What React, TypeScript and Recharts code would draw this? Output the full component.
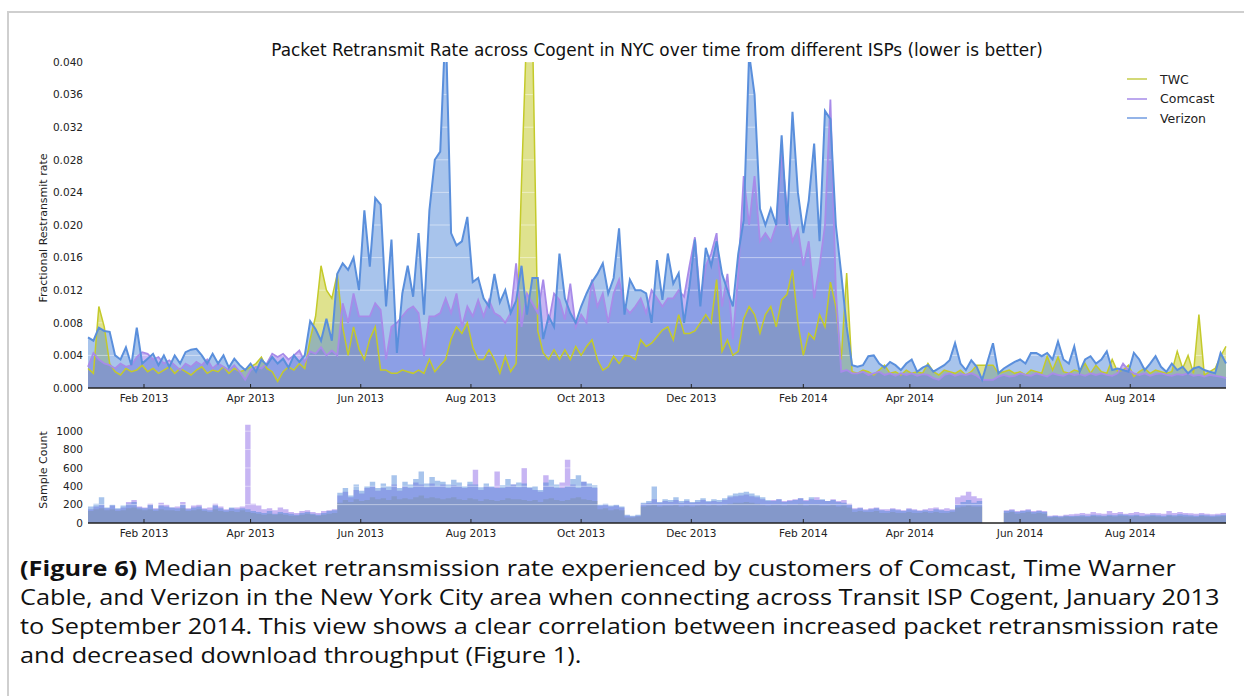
import React from 'react';
import {
  Area,
  ComposedChart,
  Line,
  ReferenceLine,
  XAxis,
  YAxis,
} from 'recharts';

// days since 1 Jan 2013, one sample every third day
const days = [
  0, 3, 6, 9, 12, 15, 18, 21, 24, 27, 30, 33, 36, 39, 42, 45, 48, 51, 54, 57,
  60, 63, 66, 69, 72, 75, 78, 81, 84, 87, 90, 93, 96, 99, 102, 105, 108, 111, 114, 117,
  120, 123, 126, 129, 132, 135, 138, 141, 144, 147, 150, 153, 156, 159, 162, 165, 168, 171, 174, 177,
  180, 183, 186, 189, 192, 195, 198, 201, 204, 207, 210, 213, 216, 219, 222, 225, 228, 231, 234, 237,
  240, 243, 246, 249, 252, 255, 258, 261, 264, 267, 270, 273, 276, 279, 282, 285, 288, 291, 294, 297,
  300, 303, 306, 309, 312, 315, 318, 321, 324, 327, 330, 333, 336, 339, 342, 345, 348, 351, 354, 357,
  360, 363, 366, 369, 372, 375, 378, 381, 384, 387, 390, 393, 396, 399, 402, 405, 408, 411, 414, 417,
  420, 423, 426, 429, 432, 435, 438, 441, 444, 447, 450, 453, 456, 459, 462, 465, 468, 471, 474, 477,
  480, 483, 486, 489, 492, 495, 498, 501, 504, 507, 510, 513, 516, 519, 522, 525, 528, 531, 534, 537,
  540, 543, 546, 549, 552, 555, 558, 561, 564, 567, 570, 573, 576, 579, 582, 585, 588, 591, 594, 597,
  600, 603, 606, 609, 612, 615, 618, 621, 624, 627, 630,
];

const twcRate = [
  0.0024, 0.0018, 0.0100, 0.0075, 0.0030, 0.0020, 0.0016, 0.0024, 0.0020, 0.0022,
  0.0028, 0.0020, 0.0024, 0.0018, 0.0022, 0.0026, 0.0018, 0.0024, 0.0020, 0.0016,
  0.0022, 0.0026, 0.0018, 0.0022, 0.0020, 0.0026, 0.0018, 0.0024, 0.0020, 0.0022,
  0.0026, 0.0030, 0.0038, 0.0024, 0.0020, 0.0008, 0.0020, 0.0026, 0.0022, 0.0030,
  0.0024, 0.0060, 0.0088, 0.0150, 0.0120, 0.0110, 0.0140, 0.0075, 0.0040, 0.0075,
  0.0048, 0.0035, 0.0060, 0.0075, 0.0022, 0.0022, 0.0018, 0.0018, 0.0022, 0.0020,
  0.0018, 0.0022, 0.0018, 0.0035, 0.0020, 0.0028, 0.0035, 0.0060, 0.0075, 0.0067,
  0.0080, 0.0050, 0.0035, 0.0035, 0.0047, 0.0035, 0.0018, 0.0039, 0.0020, 0.0030,
  0.0253, 0.0450, 0.0450, 0.0070, 0.0043, 0.0035, 0.0047, 0.0035, 0.0047, 0.0035,
  0.0051, 0.0040, 0.0051, 0.0059, 0.0035, 0.0022, 0.0026, 0.0039, 0.0030, 0.0040,
  0.0039, 0.0035, 0.0059, 0.0051, 0.0055, 0.0063, 0.0071, 0.0075, 0.0059, 0.0090,
  0.0067, 0.0067, 0.0070, 0.0080, 0.0090, 0.0080, 0.0133, 0.0045, 0.0059, 0.0040,
  0.0045, 0.0085, 0.0100, 0.0090, 0.0067, 0.0090, 0.0100, 0.0075, 0.0108, 0.0115,
  0.0145, 0.0080, 0.0040, 0.0067, 0.0060, 0.0090, 0.0075, 0.0130, 0.0100, 0.0035,
  0.0141, 0.0020, 0.0018, 0.0022, 0.0020, 0.0016, 0.0022, 0.0028, 0.0018, 0.0020,
  0.0016, 0.0022, 0.0018, 0.0020, 0.0018, 0.0030, 0.0020, 0.0016, 0.0022, 0.0020,
  0.0018, 0.0022, 0.0016, 0.0020, 0.0028, 0.0028, null, 0.0028, 0.0018, 0.0020,
  0.0022, 0.0018, 0.0020, 0.0016, 0.0022, 0.0020, 0.0018, 0.0039, 0.0022, 0.0038,
  0.0020, 0.0018, 0.0022, 0.0020, 0.0030, 0.0018, 0.0028, 0.0020, 0.0018, 0.0035,
  0.0020, 0.0022, 0.0028, 0.0014, 0.0020, 0.0024, 0.0018, 0.0022, 0.0020, 0.0018,
  0.0020, 0.0045, 0.0024, 0.0040, 0.0018, 0.0090, 0.0016, 0.0020, 0.0024, 0.0039,
  0.0051,
];

const comcastRate = [
  0.0026, 0.0043, 0.0035, 0.0030, 0.0028, 0.0024, 0.0030, 0.0026, 0.0028, 0.0038,
  0.0044, 0.0042, 0.0035, 0.0038, 0.0030, 0.0034, 0.0028, 0.0022, 0.0030, 0.0026,
  0.0032, 0.0028, 0.0035, 0.0024, 0.0030, 0.0026, 0.0022, 0.0028, 0.0020, 0.0010,
  0.0022, 0.0026, 0.0024, 0.0030, 0.0042, 0.0038, 0.0042, 0.0035, 0.0040, 0.0046,
  0.0032, 0.0045, 0.0042, 0.0050, 0.0040, 0.0046, 0.0040, 0.0104, 0.0080, 0.0116,
  0.0088, 0.0088, 0.0088, 0.0104, 0.0096, 0.0035, 0.0075, 0.0080, 0.0088, 0.0096,
  0.0100, 0.0092, 0.0039, 0.0088, 0.0088, 0.0092, 0.0110, 0.0092, 0.0116, 0.0075,
  0.0100, 0.0088, 0.0108, 0.0088, 0.0108, 0.0092, 0.0088, 0.0080, 0.0092, 0.0153,
  0.0075, 0.0116, 0.0104, 0.0092, 0.0133, 0.0080, 0.0116, 0.0108, 0.0084, 0.0128,
  0.0075, 0.0090, 0.0080, 0.0133, 0.0100, 0.0116, 0.0080, 0.0116, 0.0133, 0.0100,
  0.0092, 0.0100, 0.0110, 0.0092, 0.0120, 0.0110, 0.0100, 0.0110, 0.0110, 0.0120,
  0.0112, 0.0150, 0.0185, 0.0108, 0.0150, 0.0165, 0.0190, 0.0100, 0.0140, 0.0060,
  0.0140, 0.0260, 0.0200, 0.0260, 0.0180, 0.0190, 0.0180, 0.0200, 0.0288, 0.0220,
  0.0180, 0.0195, 0.0150, 0.0180, 0.0110, 0.0150, 0.0200, 0.0354, 0.0120, 0.0020,
  0.0022, 0.0018, 0.0018, 0.0020, 0.0016, 0.0018, 0.0020, 0.0016, 0.0018, 0.0015,
  0.0018, 0.0016, 0.0018, 0.0015, 0.0017, 0.0016, 0.0012, 0.0010, 0.0016, 0.0018,
  0.0015, 0.0017, 0.0016, 0.0018, 0.0015, 0.0010, null, 0.0010, 0.0014, 0.0016,
  0.0014, 0.0015, 0.0018, 0.0016, 0.0015, 0.0018, 0.0016, 0.0014, 0.0018, 0.0016,
  0.0015, 0.0018, 0.0016, 0.0017, 0.0015, 0.0018, 0.0016, 0.0018, 0.0016, 0.0015,
  0.0018, 0.0030, 0.0022, 0.0018, 0.0016, 0.0018, 0.0015, 0.0017, 0.0018, 0.0016,
  0.0015, 0.0017, 0.0016, 0.0018, 0.0015, 0.0016, 0.0014, 0.0016, 0.0015, 0.0014,
  0.0012,
];

const verizonRate = [
  0.0062, 0.0058, 0.0074, 0.0070, 0.0069, 0.0040, 0.0035, 0.0050, 0.0028, 0.0074,
  0.0030, 0.0036, 0.0042, 0.0028, 0.0040, 0.0026, 0.0040, 0.0030, 0.0044, 0.0047,
  0.0048, 0.0040, 0.0030, 0.0042, 0.0030, 0.0040, 0.0025, 0.0036, 0.0028, 0.0022,
  0.0030, 0.0020, 0.0035, 0.0028, 0.0038, 0.0030, 0.0036, 0.0025, 0.0040, 0.0032,
  0.0040, 0.0082, 0.0072, 0.0058, 0.0085, 0.0058, 0.0140, 0.0153, 0.0145, 0.0160,
  0.0120, 0.0218, 0.0149, 0.0233, 0.0225, 0.0100, 0.0182, 0.0043, 0.0116, 0.0150,
  0.0112, 0.0190, 0.0090, 0.0218, 0.0280, 0.0290, 0.0450, 0.0190, 0.0175, 0.0180,
  0.0210, 0.0130, 0.0135, 0.0110, 0.0100, 0.0140, 0.0105, 0.0120, 0.0092, 0.0107,
  0.0150, 0.0090, 0.0135, 0.0135, 0.0060, 0.0088, 0.0075, 0.0165, 0.0110, 0.0092,
  0.0080, 0.0100, 0.0116, 0.0130, 0.0140, 0.0153, 0.0116, 0.0135, 0.0196, 0.0090,
  0.0133, 0.0120, 0.0120, 0.0116, 0.0080, 0.0157, 0.0108, 0.0165, 0.0128, 0.0141,
  0.0080, 0.0125, 0.0182, 0.0100, 0.0172, 0.0150, 0.0180, 0.0140, 0.0120, 0.0100,
  0.0165, 0.0206, 0.0410, 0.0360, 0.0220, 0.0200, 0.0220, 0.0200, 0.0310, 0.0200,
  0.0339, 0.0240, 0.0190, 0.0230, 0.0300, 0.0180, 0.0340, 0.0330, 0.0200, 0.0140,
  0.0075, 0.0028, 0.0026, 0.0028, 0.0039, 0.0040, 0.0030, 0.0025, 0.0032, 0.0028,
  0.0022, 0.0030, 0.0035, 0.0020, 0.0025, 0.0028, 0.0020, 0.0024, 0.0028, 0.0034,
  0.0055, 0.0030, 0.0022, 0.0034, 0.0026, 0.0010, null, 0.0055, 0.0018, 0.0024,
  0.0028, 0.0032, 0.0035, 0.0030, 0.0043, 0.0043, 0.0039, 0.0043, 0.0035, 0.0057,
  0.0035, 0.0030, 0.0051, 0.0020, 0.0035, 0.0039, 0.0030, 0.0035, 0.0045, 0.0022,
  0.0024, 0.0022, 0.0020, 0.0043, 0.0035, 0.0022, 0.0030, 0.0039, 0.0026, 0.0020,
  0.0030, 0.0022, 0.0026, 0.0018, 0.0024, 0.0026, 0.0022, 0.0020, 0.0018, 0.0043,
  0.0030,
];

const twcSamples = [
  130, 150, 160, 140, 150, 130, 140, 160, 170, 150, 140, 150, 130, 150, 140, 140, 130, 160, 130, 140,
  150, 130, 120, 150, 130, 120, 130, 120, 140,
  120, 110, 100, 90, 100, 90, 100, 90, 80, 80, 90, 100, 90, 80, 90, 100, 110,
  220, 250, 230, 260, 240, 250, 280, 260, 270, 250, 290, 260, 270, 260, 280, 300, 270, 280, 270, 260,
  270, 280, 260, 250, 270, 260, 240, 260, 250, 240, 250, 270, 260, 260, 250, 240, 250, 230, 260, 270,
  250, 240, 250, 270, 280, 260, 250, 240,
  150, 160, 140, 150, 140, 60, 60, 70,
  180, 190, 200, 180, 190, 190, 200, 180, 190, 180, 190, 200, 190, 200, 190, 200, 210, 220, 220, 230,
  220, 210, 200,
  190, 200, 200, 190, 200, 200, 210, 190, 200, 200, 190, 190, 200, 180, 190, 170,
  120, 130, 120, 120, 130, 110, 110, 120, 110, 110, 120, 110, 110, 120, 110, 120, 110, 110, 120,
  170, 180, 190, 180, 180, 170,
  null, null, null,
  110, 120, 100, 110, 120, 100, 110, 100,
  60, 65, 60, 70, 65, 70, 70, 65, 75, 70, 70, 75, 70, 80, 75, 70, 75, 70, 70, 75,
  70, 65, 80, 70, 75, 70, 70, 65, 75, 70, 65, 70, 75, 65,
];

const comcastSamples = [
  150, 180, 200, 160, 190, 150, 170, 230, 250, 180, 170, 210, 160, 220, 200, 170, 180, 230, 160, 190,
  200, 160, 170, 210, 180, 150, 160, 170, 180,
  1070, 210, 190, 150, 160, 140, 170, 150, 120, 110, 130, 140, 120, 110, 130, 140, 150,
  300, 340, 280, 360, 320, 380, 400, 350, 380, 360, 420, 350, 400, 380, 440, 420, 390, 430, 400, 420,
  380, 410, 400, 380, 420, 580, 360, 400, 390, 560, 380, 400, 420, 390, 600, 380, 360, 340, 520, 400,
  380, 440, 690, 420, 380, 450, 400, 380,
  190, 200, 180, 190, 170, 80, 70, 80,
  210, 220, 260, 220, 240, 230, 250, 220, 240, 220, 230, 250, 230, 240, 230, 250, 280, 290, 300, 310,
  290, 280, 260,
  240, 250, 260, 240, 250, 260, 270, 250, 260, 280, 250, 240, 260, 240, 250, 210,
  160, 170, 150, 160, 170, 150, 150, 160, 150, 140, 160, 150, 140, 150, 160, 170, 150, 160, 150,
  280, 300, 340, 290, 270, 260,
  null, null, null,
  140, 150, 130, 140, 150, 130, 140, 130,
  80, 85, 80, 90, 95, 100, 110, 100, 120, 105, 100, 130, 110, 120, 100, 110, 120, 110, 100, 110,
  105, 100, 130, 110, 120, 110, 105, 100, 110, 100, 95, 100, 110, 90,
];

const verizonSamples = [
  180, 210, 280, 170, 200, 160, 190, 210, 230, 170, 160, 200, 150, 190, 180, 170, 160, 200, 150, 170,
  180, 150, 140, 190, 160, 140, 170, 150, 160,
  150, 130, 120, 110, 130, 100, 120, 110, 100, 90, 110, 120, 100, 90, 110, 130, 140,
  330, 380, 300, 420, 350, 400, 450, 380, 430, 400, 520, 380, 450, 420, 480, 560, 430, 500, 460, 450,
  420, 470, 440, 400, 450, 420, 390, 430, 400, 380, 410, 480, 420, 440, 430, 390, 400, 360, 440, 470,
  420, 380, 400, 480, 520, 450, 430, 410,
  200, 210, 190, 200, 180, 90, 80, 90,
  220, 240, 400, 230, 260, 250, 280, 240, 260, 230, 250, 270, 240, 260, 250, 270, 300, 320, 330, 340,
  320, 300, 280,
  250, 240, 260, 230, 240, 250, 270, 240, 280, 250, 260, 240, 250, 230, 220, 200,
  150, 160, 140, 150, 160, 140, 130, 150, 140, 130, 150, 140, 130, 140, 130, 150, 140, 130, 140,
  200, 230, 250, 220, 240, 230,
  null, null, null,
  130, 140, 120, 130, 140, 120, 130, 120,
  70, 75, 70, 80, 75, 80, 85, 80, 90, 85, 80, 90, 85, 95, 90, 85, 90, 80, 85, 90,
  85, 80, 90, 85, 95, 90, 85, 80, 90, 85, 80, 85, 90, 80,
];

const monthDays = [31, 90, 151, 212, 273, 334, 396, 455, 516, 577];
const monthLabels = [
  'Feb 2013', 'Apr 2013', 'Jun 2013', 'Aug 2013', 'Oct 2013',
  'Dec 2013', 'Feb 2014', 'Apr 2014', 'Jun 2014', 'Aug 2014',
];
const rateTicks = [0, 0.004, 0.008, 0.012, 0.016, 0.02, 0.024, 0.028, 0.032, 0.036, 0.04];
const countTicks = [0, 200, 400, 600, 800, 1000];

const isps = [
  { key: 'twc', name: 'TWC', fill: '#bfc51d', stroke: '#c4ca2a', legend: '#d3d977', width: 1.5 },
  { key: 'comcast', name: 'Comcast', fill: '#8f6be7', stroke: '#a88be9', legend: '#bca8ee', width: 1.8 },
  { key: 'verizon', name: 'Verizon', fill: '#5189d9', stroke: '#5a8fdc', legend: '#94b4e8', width: 2 },
];

const rateData = days.map((d, i) => ({
  day: d,
  twc: twcRate[i],
  comcast: comcastRate[i],
  verizon: verizonRate[i],
}));

const countData = days.map((d, i) => ({
  day: d,
  twc: twcSamples[i],
  comcast: comcastSamples[i],
  verizon: verizonSamples[i],
}));

const FONT = 'DejaVu Sans';

const MonthTick = (props: any) => {
  const { x, y, payload } = props;
  const label = monthLabels[monthDays.indexOf(payload.value)];
  return (
    <g>
      <line x1={x} x2={x} y1={y} y2={y - 4} stroke='#222' strokeWidth={1} />
      <text x={x} y={y + 13.5} textAnchor='middle' fontSize={10.5} fill='#222' fontFamily={FONT}>
        {label}
      </text>
    </g>
  );
};

const xAxisProps = {
  dataKey: 'day',
  type: 'number' as const,
  domain: [0, 630],
  ticks: monthDays,
  tick: MonthTick,
  tickSize: 0,
  tickMargin: 0,
  tickLine: false,
  axisLine: { stroke: '#222', strokeWidth: 1.5 },
  height: 20,
  interval: 0 as const,
};

const yTickStyle = { fontSize: 10.5, fill: '#222', fontFamily: FONT };

const captionLines = [
  'Median packet retransmission rate experienced by customers of Comcast, Time Warner',
  'Cable, and Verizon in the New York City area when connecting across Transit ISP Cogent, January 2013',
  'to September 2014. This view shows a clear correlation between increased packet retransmission rate',
  'and decreased download throughput (Figure 1).',
];

export default function App() {
  return (
    <div
      style={{
        position: 'absolute',
        left: 0,
        top: 0,
        width: 1244,
        height: 696,
        overflow: 'hidden',
        background: '#fff',
        fontFamily: FONT,
      }}
    >
      <div
        style={{
          position: 'absolute',
          left: 7,
          top: 11,
          width: 1300,
          height: 1000,
          border: '2px solid #cfcfcf',
        }}
      />

      <div style={{ position: 'absolute', left: 0, top: 0 }}>
        <ComposedChart
          width={1244}
          height={420}
          data={rateData}
          margin={{ top: 62, right: 18, bottom: 12, left: 0 }}
        >
          <XAxis {...xAxisProps} />
          <YAxis
            type='number'
            domain={[0, 0.04]}
            allowDataOverflow
            ticks={rateTicks}
            tickFormatter={(v) => v.toFixed(3)}
            width={88}
            tickSize={0}
            tickMargin={5}
            tickLine={false}
            axisLine={false}
            tick={yTickStyle}
          />
          {isps.map((s) => (
            <Area
              key={s.key}
              type='linear'
              dataKey={s.key}
              stroke='none'
              fill={s.fill}
              fillOpacity={0.5}
              connectNulls
              isAnimationActive={false}
            />
          ))}
          {rateTicks.slice(1).map((v) => (
            <ReferenceLine key={v} y={v} stroke='#fff' strokeOpacity={0.45} strokeWidth={1} />
          ))}
          {isps.map((s) => (
            <Line
              key={s.key}
              type='linear'
              dataKey={s.key}
              stroke={s.stroke}
              strokeWidth={s.width}
              dot={false}
              connectNulls
              isAnimationActive={false}
            />
          ))}
        </ComposedChart>
      </div>

      <div style={{ position: 'absolute', left: 0, top: 400 }}>
        <ComposedChart
          width={1244}
          height={150}
          data={countData}
          margin={{ top: 22, right: 18, bottom: 7, left: 0 }}
        >
          <XAxis {...xAxisProps} />
          <YAxis
            type='number'
            domain={[0, 1100]}
            ticks={countTicks}
            width={88}
            tickSize={0}
            tickMargin={5}
            tickLine={false}
            axisLine={false}
            tick={yTickStyle}
          />
          {isps.map((s) => (
            <Area
              key={s.key}
              type='stepAfter'
              dataKey={s.key}
              stroke='none'
              fill={s.fill}
              fillOpacity={0.5}
              isAnimationActive={false}
            />
          ))}
          {countTicks.slice(1).map((v) => (
            <ReferenceLine key={v} y={v} stroke='#fff' strokeOpacity={0.45} strokeWidth={1} />
          ))}
        </ComposedChart>
      </div>

      <div
        style={{
          position: 'absolute',
          left: 657,
          top: 50,
          transform: 'translate(-50%, -50%)',
          whiteSpace: 'nowrap',
          fontSize: 16.9,
          color: '#111',
        }}
      >
        Packet Retransmit Rate across Cogent in NYC over time from different ISPs (lower is better)
      </div>

      <div
        style={{
          position: 'absolute',
          left: 43,
          top: 228,
          transform: 'translate(-50%, -50%) rotate(-90deg)',
          whiteSpace: 'nowrap',
          fontSize: 11,
          color: '#222',
        }}
      >
        Fractional Restransmit rate
      </div>

      <div
        style={{
          position: 'absolute',
          left: 43,
          top: 470,
          transform: 'translate(-50%, -50%) rotate(-90deg)',
          whiteSpace: 'nowrap',
          fontSize: 11,
          color: '#222',
        }}
      >
        Sample Count
      </div>

      {isps.map((s, i) => (
        <div
          key={s.key}
          style={{
            position: 'absolute',
            left: 1127,
            top: 70 + i * 19.5,
            height: 18,
            display: 'flex',
            alignItems: 'center',
            fontSize: 12.5,
            color: '#222',
          }}
        >
          <span style={{ width: 20, height: 2, background: s.legend, marginRight: 13 }} />
          <span>{s.name}</span>
        </div>
      ))}

      <div
        style={{
          position: 'absolute',
          left: 20,
          top: 554,
          fontFamily: 'Open Sans',
          fontSize: 21,
          lineHeight: '29px',
          color: '#111',
          whiteSpace: 'nowrap',
          transform: 'scaleX(1.205)',
          transformOrigin: 'left top',
        }}
      >
        {captionLines.map((line, i) => (
          <div key={i} style={{ height: 29 }}>
            {i === 0 && <b>(Figure 6) </b>}
            {line}
          </div>
        ))}
      </div>
    </div>
  );
}
